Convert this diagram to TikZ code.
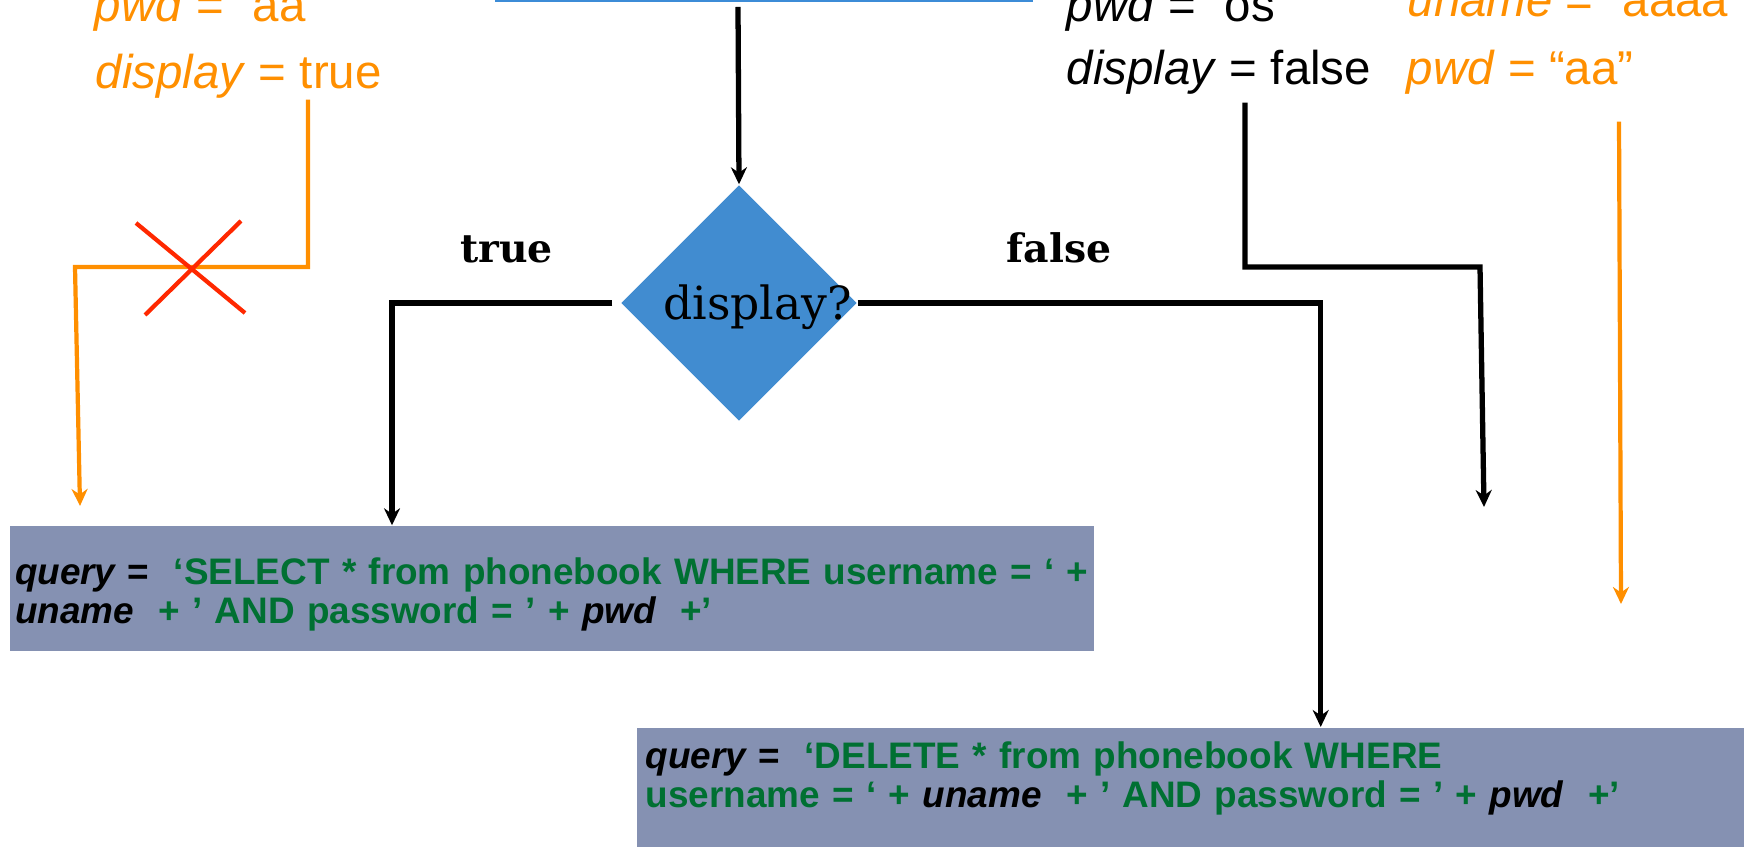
\documentclass[tikz,border=0pt]{standalone}
\usepackage{fontspec}
\setmainfont{Liberation Sans}
\newfontfamily\decfont{DejaVu Serif}
\usepackage{xcolor}
\usepackage{tikz}
\usetikzlibrary{arrows.meta,shapes.geometric}

\definecolor{varorange}{RGB}{255,143,0}
\definecolor{sqlgreen}{RGB}{0,112,50}
\definecolor{crossred}{RGB}{255,40,0}
\definecolor{decblue}{RGB}{65,140,208}
\definecolor{boxgray}{RGB}{133,145,178}
\definecolor{edgeblue}{RGB}{60,140,215}

\newcommand{\qvar}[1]{{\color{black}\itshape #1}}

\tikzset{
  vartext/.style={anchor=base west,inner sep=0pt,font=\fontsize{13.5pt}{16pt}\selectfont},
  decision/.style={diamond,aspect=1,fill=decblue,inner sep=0pt,minimum width=2.36cm,minimum height=2.36cm},
  branch/.style={anchor=base,inner sep=0pt,font=\decfont\bfseries\fontsize{11.2pt}{13pt}\selectfont},
  querybox/.style={fill=boxgray,align=left,text=sqlgreen,font=\bfseries\fontsize{10.5pt}{11.1pt}\selectfont},
  flow/.style={->,line width=1.5pt},
  oflow/.style={->,line width=1.2pt,varorange},
}

\begin{document}
\begin{tikzpicture}[>={Stealth[length=1.7mm,width=1.6mm]}]
\useasboundingbox (0,0) rectangle (17.44,8.46);
\clip (0,0) rectangle (17.44,8.46);

% edge of the box above
\draw[edgeblue,line width=0.6pt] (4.95,8.45) -- (10.33,8.45);

% input values
\node[vartext,varorange] (lpwd) at (0.94,8.24) {\textit{pwd} = “aa”};
\node[vartext,varorange] (ldisp) at (0.95,7.57) {\textit{display} = true};
\node[vartext] (mpwd) at (10.66,8.24) {\textit{pwd} = “os”};
\node[vartext] (mdisp) at (10.66,7.61) {\textit{display} = false};
\node[vartext,varorange] (runame) at (14.07,8.29) {\textit{uname} = “aaaa”};
\node[vartext,varorange] (rpwd) at (14.06,7.61) {\textit{pwd} = “aa”};

% decision
\coordinate (topin) at (7.38,8.39);
\node[decision] (dec) at (7.39,5.43) {};
\node[anchor=base,inner sep=0pt,font=\decfont\fontsize{13pt}{15pt}\selectfont] (declbl) at (7.575,5.26) {display?};
\draw[flow] (topin) -- (dec.north);

\node[branch] (truelbl) at (5.065,5.83) {true};
\node[branch] (falselbl) at (10.59,5.83) {false};

% the two queries
\node[querybox,minimum width=10.84cm,minimum height=1.25cm,text width=10.74cm,inner xsep=0.05cm,inner ysep=0pt,text height=0.38cm] (box1) at (5.52,2.575)
  {\mbox{\qvar{query} {\color{black}=}~ ‘SELECT * from phonebook WHERE username = ‘ +}\\
   \mbox{\qvar{uname}~ + ’ AND password = ’ + \qvar{pwd}~ +’}};
\node[querybox,anchor=north west,text width=11.1cm,inner xsep=0.09cm,inner ysep=0.14cm,text depth=0.85cm] (box2) at (6.36,1.19)
  {\mbox{\qvar{query} {\color{black}=}~ ‘DELETE * from phonebook WHERE}\\
   \mbox{username = ‘ + \qvar{uname}~ + ’ AND password = ’ + \qvar{pwd}~ +’}};

\draw[flow] ([xshift=-0.08cm]dec.west) -| ([xshift=-1.6cm]box1.north);
\draw[flow] (dec.east) -| ([xshift=1.2cm]box2.north);

% left value is stopped
\coordinate (ltip) at (0.80,3.40);
\draw[oflow] ([xshift=2.13cm]ldisp.south west) |- (0.75,5.79) -- (ltip);
\draw[crossred,line width=1.2pt] (1.36,6.23) -- (2.45,5.33) (2.41,6.25) -- (1.45,5.31);

% right values
\coordinate (mtip) at (14.84,3.39);
\draw[flow] ([xshift=1.79cm,yshift=-0.07cm]mdisp.south west) |- (14.80,5.79) -- (mtip);
\coordinate (rtip) at (16.21,2.42);
\draw[oflow] ([xshift=2.13cm,yshift=-0.26cm]rpwd.south west) -- (rtip);
\end{tikzpicture}
\end{document}
